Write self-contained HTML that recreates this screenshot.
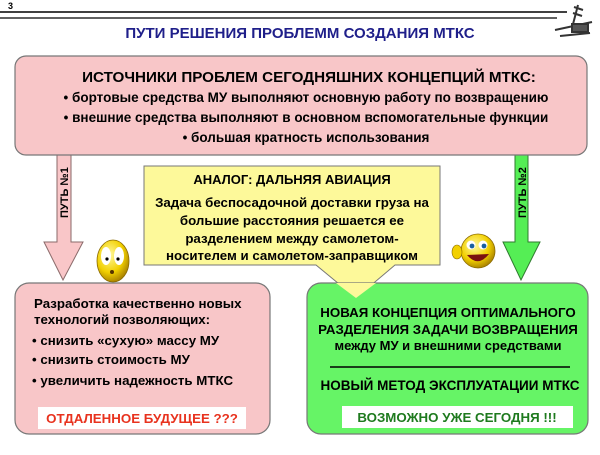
<!DOCTYPE html>
<html><head><meta charset="utf-8"><style>
html,body{margin:0;padding:0;background:#fff}
svg text{font-family:"Liberation Sans","DejaVu Sans",sans-serif;font-weight:bold}
</style></head><body>
<svg width="600" height="450" viewBox="0 0 600 450" xmlns="http://www.w3.org/2000/svg">
<defs>
<radialGradient id="sm" cx="0.4" cy="0.35" r="0.7"><stop offset="0" stop-color="#fff9a0"/><stop offset="0.6" stop-color="#f2d000"/><stop offset="1" stop-color="#a07800"/></radialGradient>
</defs>
<text x="8" y="9" font-size="9" fill="#000">3</text>
<line x1="0" y1="12" x2="567" y2="12" stroke="#000" stroke-width="1.6"/>
<line x1="0" y1="18" x2="557" y2="18" stroke="#000" stroke-width="1.2"/>
<g stroke="#333" stroke-width="2" fill="#666">
<line x1="578" y1="5" x2="572" y2="28"/><line x1="574" y1="7" x2="583" y2="10"/><line x1="573" y1="13" x2="582" y2="16"/>
<line x1="555" y1="30" x2="592" y2="22"/><line x1="560" y1="36" x2="590" y2="33"/>
<rect x="572" y="24" width="16" height="8" fill="#555"/>
</g>
<text x="300" y="38" font-size="15" fill="#1f1f8a" text-anchor="middle">ПУТИ РЕШЕНИЯ ПРОБЛЕММ СОЗДАНИЯ МТКС</text>
<polygon points="57,150 71,150 71,242 83,242 63,280 44,242 57,242" fill="#f9c6c8" stroke="#8a6a6a" stroke-width="1"/>
<polygon points="515,150 528,150 528,242 540,242 521,280 503,242 515,242" fill="#55ee55" stroke="#2f7a2f" stroke-width="1"/>
<text transform="translate(68,218) rotate(-90)" font-size="11" fill="#000">ПУТЬ №1</text>
<text transform="translate(526,218) rotate(-90)" font-size="11" fill="#000">ПУТЬ №2</text>
<rect x="15" y="56" width="572" height="99" rx="11" fill="#f8c6c8" stroke="#777" stroke-width="1.2"/>
<text x="309" y="82" font-size="15.2" fill="#000" text-anchor="middle">ИСТОЧНИКИ ПРОБЛЕМ СЕГОДНЯШНИХ КОНЦЕПЦИЙ МТКС:</text>
<text x="306" y="102" font-size="13.5" fill="#000" text-anchor="middle">• бортовые средства МУ выполняют основную работу по возвращению</text>
<text x="306" y="122" font-size="13.5" fill="#000" text-anchor="middle">• внешние средства выполняют в основном вспомогательные функции</text>
<text x="306" y="142" font-size="13.5" fill="#000" text-anchor="middle">• большая кратность использования</text>
<polygon points="144,166 440,166 440,265 395,265 356,298 316,265 144,265" fill="#fdf99a" stroke="#777" stroke-width="1"/>
<text x="292" y="184" font-size="13" fill="#000" text-anchor="middle">АНАЛОГ: ДАЛЬНЯЯ АВИАЦИЯ</text>
<text x="292" y="207" font-size="13.3" fill="#000" text-anchor="middle">Задача беспосадочной доставки груза на</text>
<text x="292" y="225" font-size="13.3" fill="#000" text-anchor="middle">большие расстояния решается ее</text>
<text x="292" y="243" font-size="13.3" fill="#000" text-anchor="middle">разделением между самолетом-</text>
<text x="292" y="260" font-size="13.3" fill="#000" text-anchor="middle">носителем и самолетом-заправщиком</text>
<ellipse cx="113" cy="261" rx="16" ry="21" fill="url(#sm)" stroke="#8a6a00" stroke-width="0.8"/>
<ellipse cx="106" cy="256" rx="5" ry="9" fill="#fff"/><ellipse cx="119" cy="256" rx="5" ry="9" fill="#fff"/>
<circle cx="107" cy="259" r="1.6" fill="#000"/><circle cx="118" cy="259" r="1.6" fill="#000"/>
<ellipse cx="112" cy="272" rx="2" ry="2" fill="#553300"/>
<circle cx="478" cy="251" r="17" fill="url(#sm)" stroke="#8a6a00" stroke-width="0.8"/>
<ellipse cx="457" cy="252" rx="5" ry="7" fill="#f2d000" stroke="#8a6a00" stroke-width="0.6"/>
<circle cx="471" cy="245" r="4.5" fill="#fff"/><circle cx="483" cy="245" r="4.5" fill="#fff"/>
<circle cx="472" cy="246" r="2.4" fill="#1a5fa0"/><circle cx="484" cy="246" r="2.4" fill="#1a5fa0"/>
<path d="M467,255 Q478,268 489,254 Z" fill="#7a1010"/>
<rect x="15" y="283" width="255" height="151" rx="14" fill="#f8c6c8" stroke="#777" stroke-width="1.2"/>
<text x="34" y="308" font-size="13.3" fill="#000">Разработка качественно новых</text>
<text x="34" y="324" font-size="13.3" fill="#000">технологий позволяющих:</text>
<text x="32" y="345" font-size="13.3" fill="#000">• снизить «сухую» массу МУ</text>
<text x="32" y="364" font-size="13.3" fill="#000">• снизить стоимость МУ</text>
<text x="32" y="385" font-size="13.3" fill="#000">• увеличить надежность МТКС</text>
<rect x="38" y="407" width="208" height="22" fill="#fff"/>
<text x="142" y="423" font-size="13.3" fill="#e8321e" text-anchor="middle">ОТДАЛЕННОЕ БУДУЩЕЕ ???</text>
<rect x="307" y="283" width="281" height="151" rx="14" fill="#66f466" stroke="#777" stroke-width="1.2"/>
<polygon points="336,283 376,283 356,298" fill="#fdf99a"/>
<text x="448" y="317" font-size="13.3" fill="#000" text-anchor="middle">НОВАЯ КОНЦЕПЦИЯ ОПТИМАЛЬНОГО</text>
<text x="448" y="334" font-size="13.3" fill="#000" text-anchor="middle">РАЗДЕЛЕНИЯ ЗАДАЧИ ВОЗВРАЩЕНИЯ</text>
<text x="448" y="350" font-size="13" fill="#000" text-anchor="middle">между МУ и внешними средствами</text>
<line x1="330" y1="367" x2="570" y2="367" stroke="#000" stroke-width="1.5"/>
<text x="450" y="390" font-size="13.5" fill="#000" text-anchor="middle">НОВЫЙ МЕТОД ЭКСПЛУАТАЦИИ МТКС</text>
<rect x="342" y="406" width="231" height="22" fill="#fff"/>
<text x="457" y="422" font-size="13.3" fill="#1e7a1e" text-anchor="middle">ВОЗМОЖНО УЖЕ СЕГОДНЯ !!!</text>
</svg>
</body></html>
